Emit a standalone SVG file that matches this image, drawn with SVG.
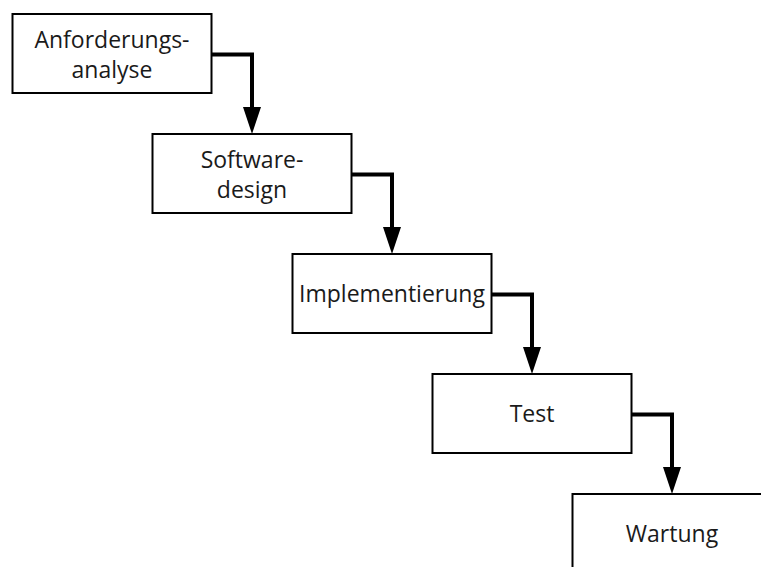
<svg xmlns="http://www.w3.org/2000/svg" width="761" height="567" viewBox="0 0 761 567">
  <style>
    .box { fill: #ffffff; stroke: #000000; stroke-width: 2; }
    .label { font-family: "Open Sans", "Noto Sans", "DejaVu Sans", sans-serif; font-size: 23px; fill: #1a1a1a; text-anchor: middle; }
    .flow { fill: none; stroke: #000000; stroke-width: 4; stroke-linejoin: miter; }
  </style>
  <defs>
    <!-- filled triangular head, 18 wide and 27 long, drawn from the line end onward -->
    <marker id="arrow" markerUnits="userSpaceOnUse" markerWidth="27" markerHeight="18" refX="0" refY="9" orient="auto" viewBox="0 0 27 18">
      <path d="M0,0 L27,9 L0,18 Z" fill="#000000"/>
    </marker>
  </defs>

  <rect x="0" y="0" width="761" height="567" fill="#ffffff"/>

  <g id="connectors">
    <path class="flow" d="M211.5,54.5 H252 V107" marker-end="url(#arrow)"/>
    <path class="flow" d="M351.5,174.5 H392 V227" marker-end="url(#arrow)"/>
    <path class="flow" d="M491.5,294.5 H532 V347" marker-end="url(#arrow)"/>
    <path class="flow" d="M631.5,414.5 H672 V467" marker-end="url(#arrow)"/>
  </g>

  <g id="anforderungsanalyse">
    <rect class="box" x="12.5" y="14" width="199" height="79"/>
    <text class="label" x="112" y="48">Anforderungs-</text>
    <text class="label" x="112" y="77.5">analyse</text>
  </g>

  <g id="softwaredesign">
    <rect class="box" x="152.5" y="134" width="199" height="79"/>
    <text class="label" x="252" y="168">Software-</text>
    <text class="label" x="252" y="197.5">design</text>
  </g>

  <g id="implementierung">
    <rect class="box" x="292.5" y="254" width="199" height="79"/>
    <text class="label" x="392" y="302">Implementierung</text>
  </g>

  <g id="test">
    <rect class="box" x="432.5" y="374" width="199" height="79"/>
    <text class="label" x="532" y="422">Test</text>
  </g>

  <g id="wartung">
    <rect class="box" x="572.5" y="494" width="199" height="79"/>
    <text class="label" x="672" y="542">Wartung</text>
  </g>
</svg>
